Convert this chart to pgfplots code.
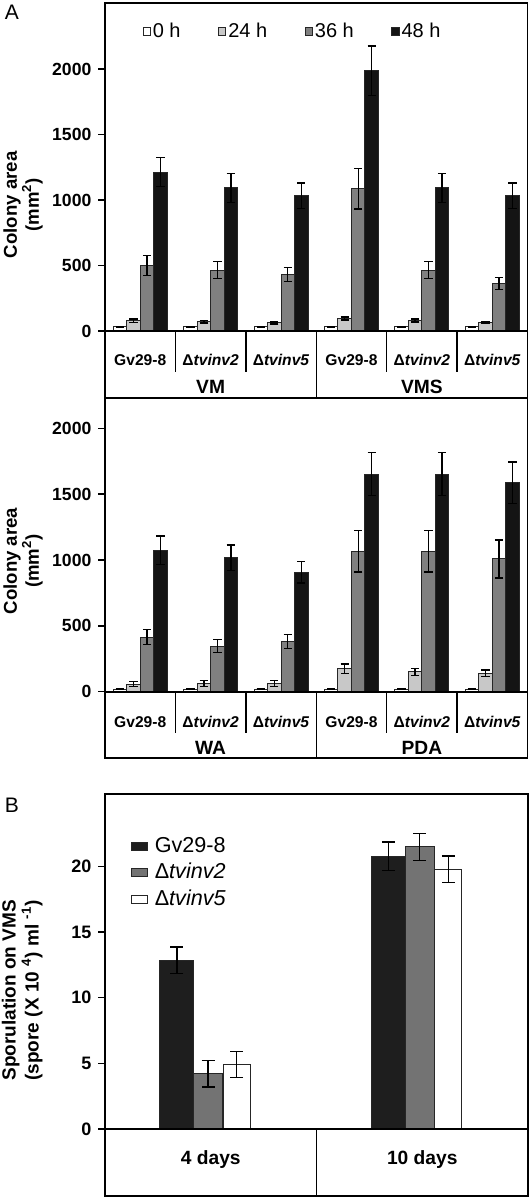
\documentclass[border=0pt]{standalone}
\usepackage{pgfplots}
\pgfplotsset{compat=1.18}
\usepackage{fontspec}
\setmainfont{Liberation Sans}
\definecolor{hA}{HTML}{FFFFFF}
\definecolor{hB}{HTML}{C8C8C8}
\definecolor{hC}{HTML}{808080}
\definecolor{hD}{HTML}{141414}
\definecolor{sA}{HTML}{1E1E1E}
\definecolor{sB}{HTML}{737373}
\definecolor{sC}{HTML}{FFFFFF}
\pgfplotsset{
  common/.style={
    scale only axis, clip=false,
    xtick=\empty, ytick pos=left, tick align=outside, major tick length=3.3pt,
    /pgf/number format/assume math mode=true,
    /pgf/number format/1000 sep={},
    yticklabel style={font=\bfseries\fontsize{8.8}{10}\selectfont},
    axis line style={black, line width=0.7pt},
    tick style={black, line width=0.7pt},
    ylabel style={align=center, font=\bfseries\fontsize{9.3}{11}\selectfont, anchor=center},
    every axis plot/.append style={draw=black!85, line width=0.5pt,
      /pgfplots/error bars/y dir=both, /pgfplots/error bars/y explicit,
      /pgfplots/error bars/error bar style={black, line width=0.7pt},
      /pgfplots/error bars/error mark options={black, rotate=90, mark size=2.1pt, line width=0.7pt}},
  },
  panelA/.style={
    common, width=211.25pt, ybar=0pt, bar width=6.75pt,
    xmin=-0.5, xmax=5.5, ytick={0,500,1000,1500,2000},
    ylabel={Colony area\\(mm\textsuperscript{2})},
  },
}
\newcommand{\strain}[1]{\bfseries\fontsize{7.8}{9}\selectfont #1}
\newcommand{\grp}{\bfseries\fontsize{9.6}{11}\selectfont}
\begin{document}
\begin{tikzpicture}
\useasboundingbox (0pt,0pt) rectangle (265.5pt,-599.5pt);
\node[font=\fontsize{10.5}{12}\selectfont] at (6pt,-6pt) {A};
\node[font=\fontsize{10.5}{12}\selectfont] at (6pt,-402.5pt) {B};

% ---------- Panel A top ----------
\begin{axis}[panelA, at={(52.5pt,-199pt)}, anchor=south west, height=197.5pt,
  ymin=-511, ymax=2504,
  ylabel style={at={(axis description cs:-0.194,0.489)}},
  legend columns=4,
  legend style={draw=none, fill=none, at={(axis description cs:0.004,0.928)}, anchor=west,
    font=\fontsize{10}{11}\selectfont, inner sep=0pt,
    nodes={inner xsep=1pt, inner ysep=1pt}},
  legend image code/.code={\path[draw=none, fill=none] (-18pt,0pt) -- (0pt,0pt); \draw[#1] (0pt,-1.8pt) rectangle (3.6pt,1.8pt);},
]
\addplot[fill=hA] coordinates {(0,32) +- (0,0) (1,32) +- (0,0) (2,32) +- (0,0) (3,32) +- (0,0) (4,32) +- (0,0) (5,32) +- (0,0)};
\addplot[fill=hB] coordinates {(0,78) +- (0,14) (1,70) +- (0,10) (2,62) +- (0,8) (3,95) +- (0,12) (4,80) +- (0,12) (5,62) +- (0,6)};
\addplot[fill=hC] coordinates {(0,500) +- (0,75) (1,466) +- (0,63) (2,430) +- (0,54) (3,1087) +- (0,155) (4,466) +- (0,63) (5,361) +- (0,46)};
\addplot[fill=hD] coordinates {(0,1214) +- (0,109) (1,1092) +- (0,109) (2,1033) +- (0,97) (3,1988) +- (0,188) (4,1092) +- (0,109) (5,1033) +- (0,97)};
\legend{0 h,24 h,36 h,48 h}
\draw[black, line width=0.8pt] (axis cs:-0.5,0) -- (axis cs:5.5,0);
\draw[black, line width=0.7pt] (axis cs:0.5,0) -- (axis cs:0.5,-313);
\draw[black, line width=0.7pt] (axis cs:1.5,0) -- (axis cs:1.5,-313);
\draw[black, line width=0.7pt] (axis cs:3.5,0) -- (axis cs:3.5,-313);
\draw[black, line width=0.7pt] (axis cs:4.5,0) -- (axis cs:4.5,-313);
\draw[black, line width=0.7pt] (axis cs:2.5,0) -- (axis cs:2.5,-511);
\node[font=\strain{}] at (axis cs:0,-221) {Gv29-8};
\node[font=\strain{}] at (axis cs:1,-221) {Δ\textit{tvinv2}};
\node[font=\strain{}] at (axis cs:2,-221) {Δ\textit{tvinv5}};
\node[font=\strain{}] at (axis cs:3,-221) {Gv29-8};
\node[font=\strain{}] at (axis cs:4,-221) {Δ\textit{tvinv2}};
\node[font=\strain{}] at (axis cs:5,-221) {Δ\textit{tvinv5}};
\node[font=\grp] at (axis cs:1,-424) {VM};
\node[font=\grp] at (axis cs:4,-424) {VMS};
\end{axis}

% ---------- Panel A bottom ----------
\begin{axis}[panelA, at={(52.5pt,-379pt)}, anchor=south west, height=180pt,
  ymin=-503, ymax=2230,
  ylabel style={at={(axis description cs:-0.194,0.547)}},
]
\addplot[fill=hA] coordinates {(0,20) +- (0,0) (1,20) +- (0,0) (2,20) +- (0,0) (3,20) +- (0,0) (4,20) +- (0,0) (5,20) +- (0,0)};
\addplot[fill=hB] coordinates {(0,58) +- (0,18) (1,63) +- (0,22) (2,63) +- (0,22) (3,175) +- (0,35) (4,150) +- (0,25) (5,139) +- (0,25)};
\addplot[fill=hC] coordinates {(0,415) +- (0,58) (1,347) +- (0,48) (2,382) +- (0,53) (3,1065) +- (0,157) (4,1065) +- (0,157) (5,1008) +- (0,145)};
\addplot[fill=hD] coordinates {(0,1074) +- (0,108) (1,1018) +- (0,96) (2,906) +- (0,81) (3,1653) +- (0,165) (4,1653) +- (0,165) (5,1588) +- (0,157)};
\draw[black, line width=0.8pt] (axis cs:-0.5,0) -- (axis cs:5.5,0);
\draw[black, line width=0.7pt] (axis cs:0.5,0) -- (axis cs:0.5,-313);
\draw[black, line width=0.7pt] (axis cs:1.5,0) -- (axis cs:1.5,-313);
\draw[black, line width=0.7pt] (axis cs:3.5,0) -- (axis cs:3.5,-313);
\draw[black, line width=0.7pt] (axis cs:4.5,0) -- (axis cs:4.5,-313);
\draw[black, line width=0.7pt] (axis cs:2.5,0) -- (axis cs:2.5,-503);
\node[font=\strain{}] at (axis cs:0,-230) {Gv29-8};
\node[font=\strain{}] at (axis cs:1,-230) {Δ\textit{tvinv2}};
\node[font=\strain{}] at (axis cs:2,-230) {Δ\textit{tvinv5}};
\node[font=\strain{}] at (axis cs:3,-230) {Gv29-8};
\node[font=\strain{}] at (axis cs:4,-230) {Δ\textit{tvinv2}};
\node[font=\strain{}] at (axis cs:5,-230) {Δ\textit{tvinv5}};
\node[font=\grp] at (axis cs:1,-428) {WA};
\node[font=\grp] at (axis cs:4,-428) {PDA};
\end{axis}

% ---------- Panel B ----------
\begin{axis}[common, at={(52.5pt,-598pt)}, anchor=south west, width=211.5pt, height=201pt,
  ybar=0pt, xmin=-0.5, xmax=1.5, ymin=-5.1, ymax=25.5, ytick={0,5,10,15,20},
  yticklabel style={font=\bfseries\fontsize{9}{10}\selectfont},
  every axis plot/.append style={/pgfplots/error bars/error mark options={black, rotate=90, mark size=3.2pt, line width=0.7pt}},
  ylabel={Sporulation on VMS\\(spore (X 10 \textsuperscript{4}) ml \textsuperscript{-1})},
  ylabel style={at={(axis description cs:-0.196,0.512)}, font=\bfseries\fontsize{9.5}{11.5}\selectfont},
  legend cell align=left,
  legend style={draw=none, fill=none, at={(axis description cs:0.06,0.896)}, anchor=north west,
    font=\fontsize{10.8}{12}\selectfont, inner sep=0pt, row sep=3pt,
    nodes={inner xsep=3.5pt, inner ysep=0.5pt}},
  legend image code/.code={\draw[#1] (0pt,-2.1pt) rectangle (8pt,2.1pt);},
]
\addplot[fill=sA, bar width=16.9pt, bar shift=-16.95pt] coordinates {(0,12.85) +- (0,1.0) (1,20.76) +- (0,1.08)};
\addplot[fill=sB, bar width=14.35pt, bar shift=-1.3pt] coordinates {(0,4.2) +- (0,1.0) (1,21.47) +- (0,1.02)};
\addplot[fill=sC, bar width=13.5pt, bar shift=13pt] coordinates {(0,4.9) +- (0,1.0) (1,19.77) +- (0,1.0)};
\legend{Gv29-8,Δ\textit{tvinv2},Δ\textit{tvinv5}}
\draw[black, line width=0.8pt] (axis cs:-0.5,0) -- (axis cs:1.5,0);
\draw[black, line width=0.7pt] (axis cs:0.5,0) -- (axis cs:0.5,-5.1);
\node[font=\bfseries\fontsize{9.6}{11}\selectfont] at (axis cs:0,-2.36) {4 days};
\node[font=\bfseries\fontsize{9.6}{11}\selectfont] at (axis cs:1,-2.36) {10 days};
\end{axis}
\end{tikzpicture}
\end{document}
